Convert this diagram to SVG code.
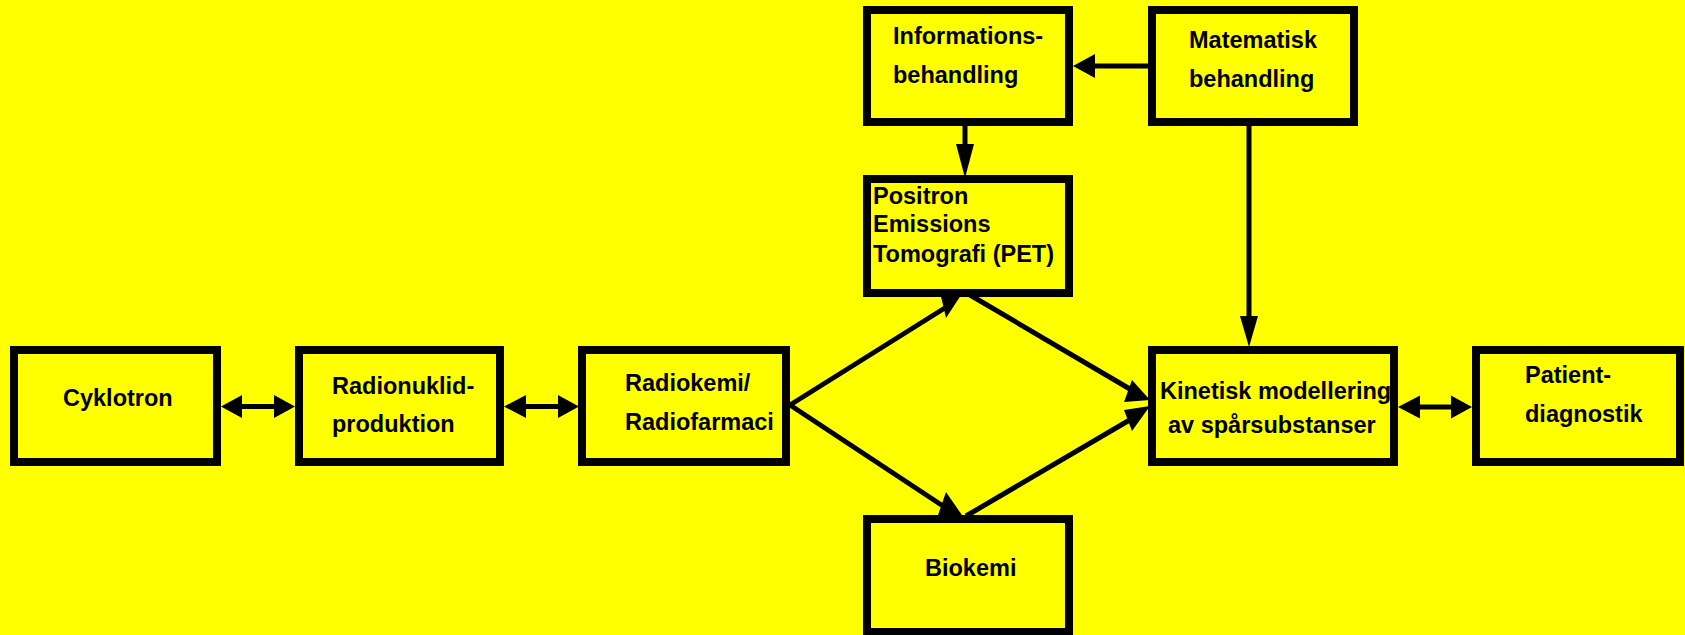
<svg xmlns="http://www.w3.org/2000/svg" width="1685" height="635" viewBox="0 0 1685 635">
<style>
.box{fill:#ffff00;stroke:#000;stroke-width:8}
.ln{stroke:#000;stroke-width:5;fill:none}
.ah{fill:#000;stroke:none}
text{font-family:"Liberation Sans",Arial,sans-serif;font-weight:bold;font-size:23.5px;fill:#000}
</style>
<rect x="0" y="0" width="1685" height="635" fill="#ffff00"/>
<g id="connectors">
  <!-- Cyklotron <-> Radionuklid -->
  <line class="ln" x1="238" y1="406.5" x2="278" y2="406.5"/>
  <polygon class="ah" points="221,406.5 242,395 242,418"/>
  <polygon class="ah" points="295,406.5 274,395 274,418"/>
  <!-- Radionuklid <-> Radiokemi -->
  <line class="ln" x1="522" y1="406.5" x2="562" y2="406.5"/>
  <polygon class="ah" points="504,406.5 526,395 526,418"/>
  <polygon class="ah" points="579,406.5 558,395 558,418"/>
  <!-- Kinetisk <-> Patient -->
  <line class="ln" x1="1416" y1="407" x2="1455" y2="407"/>
  <polygon class="ah" points="1398,407 1420,395.5 1420,418.5"/>
  <polygon class="ah" points="1472,407 1451,395.5 1451,418.5"/>
  <!-- Matematisk -> Informations -->
  <line class="ln" x1="1148" y1="66" x2="1090" y2="66"/>
  <polygon class="ah" points="1073,66 1095,54 1095,78"/>
  <!-- Informations -> PET -->
  <line class="ln" x1="965" y1="124" x2="965" y2="150"/>
  <polygon class="ah" points="956,144 974,144 965,178"/>
  <!-- Matematisk -> Kinetisk -->
  <line class="ln" x1="1249" y1="124" x2="1249" y2="320"/>
  <polygon class="ah" points="1240,316 1258,316 1249,347"/>
  <!-- Radiokemi -> PET -->
  <line class="ln" x1="790" y1="405" x2="948" y2="306"/>
  <polygon class="ah" points="940,292 963,292 946,318"/>
  <!-- Radiokemi -> Biokemi -->
  <line class="ln" x1="790" y1="405" x2="943" y2="506"/>
  <polygon class="ah" points="946,492 937,518 964,518"/>
  <!-- PET -> Kinetisk -->
  <line class="ln" x1="970" y1="295" x2="1135" y2="392"/>
  <polygon class="ah" points="1132,380 1124,402 1150,400"/>
  <!-- Biokemi -> Kinetisk -->
  <line class="ln" x1="966" y1="516" x2="1133" y2="418"/>
  <polygon class="ah" points="1124,410 1150,406 1132,431"/>
</g>
<g id="cyklotron">
  <rect class="box" x="14" y="350" width="203" height="112"/>
  <text x="63" y="406">Cyklotron</text>
</g>
<g id="radionuklid">
  <rect class="box" x="299" y="350" width="201" height="112"/>
  <text x="332" y="394">Radionuklid-</text>
  <text x="332" y="432">produktion</text>
</g>
<g id="radiokemi">
  <rect class="box" x="582" y="350" width="204" height="112"/>
  <text x="625" y="391">Radiokemi/</text>
  <text x="625" y="430">Radiofarmaci</text>
</g>
<g id="informations">
  <rect class="box" x="867" y="10" width="202" height="112"/>
  <text x="893" y="44">Informations-</text>
  <text x="893" y="83">behandling</text>
</g>
<g id="matematisk">
  <rect class="box" x="1152" y="10" width="202" height="112"/>
  <text x="1189" y="48">Matematisk</text>
  <text x="1189" y="87">behandling</text>
</g>
<g id="pet">
  <rect class="box" x="867" y="179" width="202" height="114"/>
  <text x="873" y="204">Positron</text>
  <text x="873" y="232">Emissions</text>
  <text x="873" y="262">Tomografi (PET)</text>
</g>
<g id="kinetisk">
  <rect class="box" x="1152" y="350" width="242" height="112"/>
  <text x="1160" y="399">Kinetisk modellering</text>
  <text x="1168" y="433">av spårsubstanser</text>
</g>
<g id="patient">
  <rect class="box" x="1476" y="350" width="204" height="112"/>
  <text x="1525" y="383">Patient-</text>
  <text x="1525" y="422">diagnostik</text>
</g>
<g id="biokemi">
  <rect class="box" x="867" y="519" width="202" height="113"/>
  <text x="925" y="576">Biokemi</text>
</g>
</svg>
